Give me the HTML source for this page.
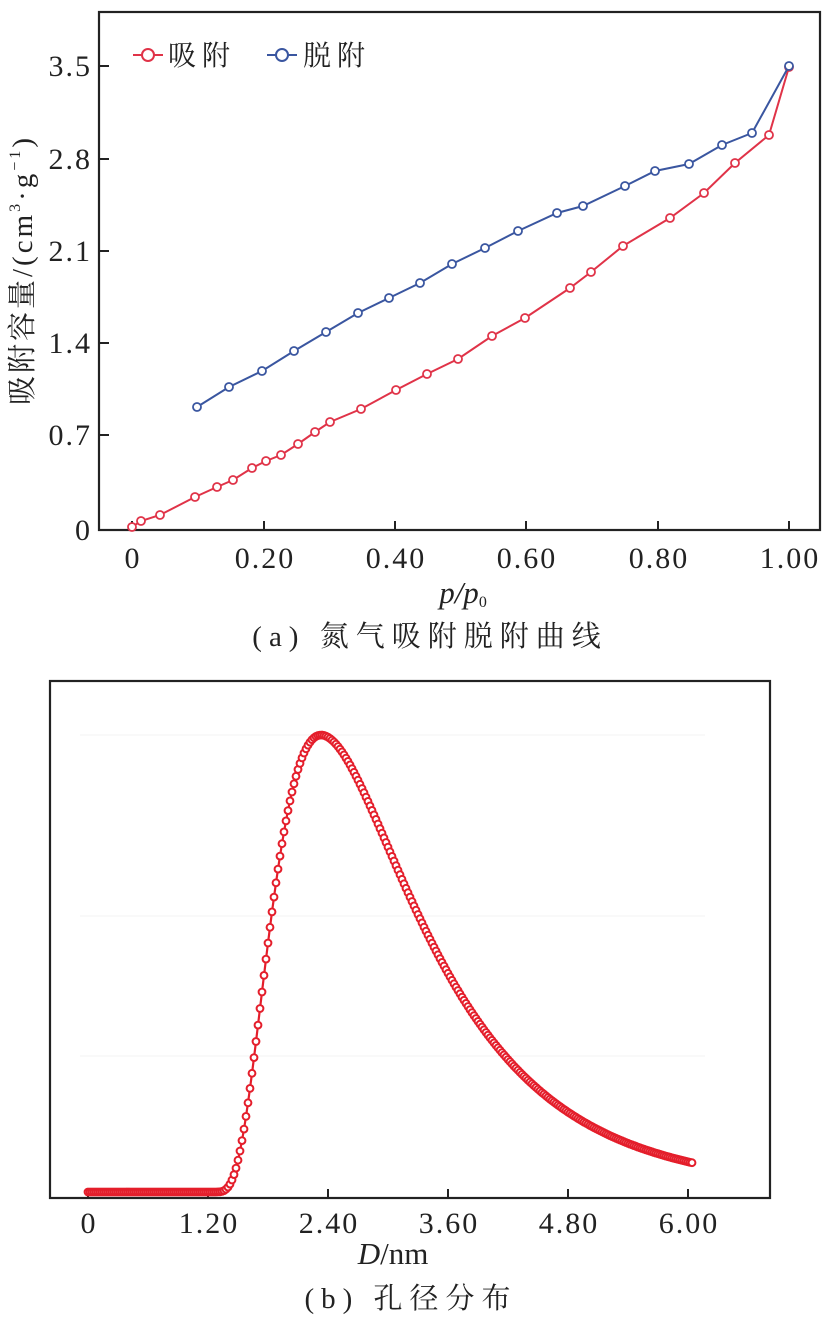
<!DOCTYPE html>
<html><head><meta charset="utf-8">
<style>
html,body{margin:0;padding:0;background:#fff;}
svg{display:block;}
text{font-family:"Liberation Serif","Noto Serif CJK SC",serif;fill:#222;}
</style></head>
<body>
<svg id="s" width="822" height="1328" xmlns="http://www.w3.org/2000/svg">
<rect x="99" y="12" width="721" height="518" fill="none" stroke="#222" stroke-width="2.2"/>
<g stroke="#222" stroke-width="2">
<line x1="99" y1="66" x2="109" y2="66"/><line x1="99" y1="159" x2="109" y2="159"/>
<line x1="99" y1="251" x2="109" y2="251"/><line x1="99" y1="343" x2="109" y2="343"/>
<line x1="99" y1="435" x2="109" y2="435"/>
<line x1="132" y1="530" x2="132" y2="521"/><line x1="264" y1="530" x2="264" y2="521"/>
<line x1="395" y1="530" x2="395" y2="521"/><line x1="526" y1="530" x2="526" y2="521"/>
<line x1="658" y1="530" x2="658" y2="521"/><line x1="789" y1="530" x2="789" y2="521"/>
</g>
<g font-size="30" letter-spacing="2" text-anchor="end">
<text x="92" y="76">3.5</text><text x="92" y="169">2.8</text><text x="92" y="261">2.1</text>
<text x="92" y="353">1.4</text><text x="92" y="445">0.7</text><text x="92" y="540">0</text>
</g>
<g font-size="30" letter-spacing="2" text-anchor="middle">
<text x="133" y="568">0</text><text x="265" y="568">0.20</text><text x="396" y="568">0.40</text>
<text x="527" y="568">0.60</text><text x="659" y="568">0.80</text><text x="790" y="568">1.00</text>
</g>
<text x="0" y="0" font-size="29" letter-spacing="3" text-anchor="middle" transform="translate(32,270) rotate(-90)">吸附容量/(cm<tspan font-size="16" dy="-12">3</tspan><tspan dy="12">·g</tspan><tspan font-size="16" dy="-12">−1</tspan><tspan dy="12">)</tspan></text>
<text x="463" y="603" font-size="31" text-anchor="middle" font-style="italic">p/p<tspan font-size="16" dy="4" font-style="normal">0</tspan></text>
<text x="430" y="646" font-size="29" letter-spacing="7" text-anchor="middle">(a) 氮气吸附脱附曲线</text>
<line x1="133" y1="55" x2="163" y2="55" stroke="#e03348" stroke-width="2"/>
<circle cx="148" cy="55" r="6" fill="#fff" stroke="#e03348" stroke-width="2"/>
<text x="168" y="65" font-size="28" letter-spacing="6">吸附</text>
<line x1="267" y1="55" x2="297" y2="55" stroke="#3a56a0" stroke-width="2"/>
<circle cx="282" cy="55" r="6" fill="#fff" stroke="#3a56a0" stroke-width="2"/>
<text x="303" y="65" font-size="28" letter-spacing="6">脱附</text>
<g id="gtop"></g>

<rect x="50" y="681" width="720" height="517" fill="none" stroke="#222" stroke-width="2.2"/>
<g stroke="#f3f3f3" stroke-width="1">
<line x1="80" y1="735" x2="705" y2="735"/><line x1="80" y1="916" x2="705" y2="916"/>
<line x1="80" y1="1056" x2="705" y2="1056"/>
</g>
<g stroke="#222" stroke-width="2">
<line x1="88" y1="1198" x2="88" y2="1189"/><line x1="208" y1="1198" x2="208" y2="1189"/>
<line x1="328" y1="1198" x2="328" y2="1189"/><line x1="448" y1="1198" x2="448" y2="1189"/>
<line x1="568" y1="1198" x2="568" y2="1189"/><line x1="688" y1="1198" x2="688" y2="1189"/>
</g>
<g font-size="30" letter-spacing="2" text-anchor="middle">
<text x="89" y="1233">0</text><text x="209" y="1233">1.20</text><text x="329" y="1233">2.40</text>
<text x="449" y="1233">3.60</text><text x="569" y="1233">4.80</text><text x="689" y="1233">6.00</text>
</g>
<text x="393" y="1264" font-size="31" text-anchor="middle"><tspan font-style="italic">D</tspan>/nm</text>
<text x="411" y="1308" font-size="29" letter-spacing="7" text-anchor="middle">(b) 孔径分布</text>
<g id="gbot"></g>
</svg>
<script>
(function(){
var NS="http://www.w3.org/2000/svg";
function el(p,n,a){var e=document.createElementNS(NS,n);for(var k in a)e.setAttribute(k,a[k]);p.appendChild(e);return e;}
var gt=document.getElementById("gtop");
var ads=[[132,527],[141,521],[160,515],[195,497],[217,487],[233,480],[252,468],[266,461],[281,455],[298,444],[315,432],[330,422],[361,409],[396,390],[427,374],[458,359],[492,336],[525,318],[570,288],[591,272],[623,246],[670,218],[704,193],[735,163],[769,135],[789,67]];
var des=[[197,407],[229,387],[262,371],[294,351],[326,332],[358,313],[389,298],[420,283],[452,264],[485,248],[518,231],[557,213],[583,206],[625,186],[655,171],[689,164],[722,145],[752,133],[789,66]];
function series(pts,c){
 el(gt,"polyline",{points:pts.map(function(p){return p.join(",")}).join(" "),fill:"none",stroke:c,"stroke-width":2});
 pts.forEach(function(p){el(gt,"circle",{cx:p[0],cy:p[1],r:4,fill:"#fff",stroke:c,"stroke-width":1.8});});
}
series(ads,"#e03348");series(des,"#3a56a0");
var gb=document.getElementById("gbot");
var pts=[];
for(var D=0;D<=6.051;D+=0.02){
 var t=D-1.2,h=0;
 if(t>0){var l=Math.log(t/1.13);var s2=l<0?0.33:0.385;h=Math.exp(-l*l/(2*s2));}
 pts.push([88+D*100,1192-h*457]);
}
el(gb,"polyline",{points:pts.map(function(p){return p[0].toFixed(1)+","+p[1].toFixed(1)}).join(" "),fill:"none",stroke:"#e41e2b","stroke-width":2.2});
pts.forEach(function(p){el(gb,"circle",{cx:p[0].toFixed(1),cy:p[1].toFixed(1),r:3.4,fill:"#fff",stroke:"#e41e2b","stroke-width":2});});
})();
</script>
</body></html>
